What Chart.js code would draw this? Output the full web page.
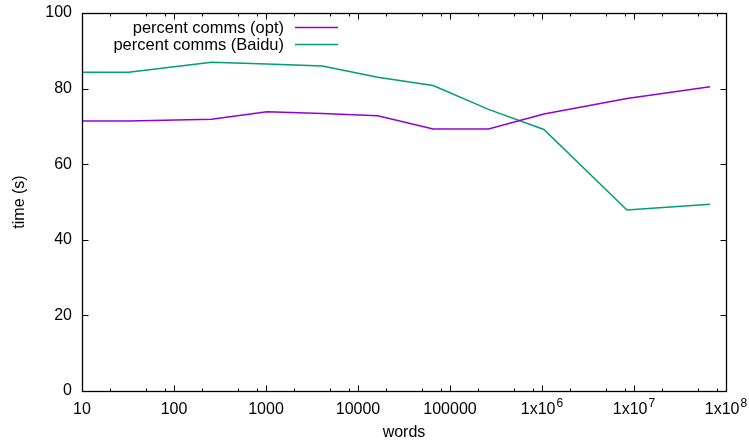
<!DOCTYPE html>
<html>
<head>
<meta charset="utf-8">
<script src="https://cdn.jsdelivr.net/npm/chart.js@4/dist/chart.umd.min.js"></script>
<style>
html,body{margin:0;padding:0;background:#fff;}
#wrap{width:749px;height:442px;position:relative;}
</style>
</head>
<body>
<div id="wrap"><canvas id="c" width="749" height="442"></canvas></div>
<script>
const words = [10, 32, 256, 1024, 4096, 16384, 65536, 262144, 1048576, 8388608, 67108864];
const optPercent = [71.4, 71.4, 71.9, 73.9, 73.4, 72.8, 69.3, 69.3, 73.3, 77.4, 80.5];
const baiduPercent = [84.3, 84.3, 87.0, 86.5, 86.0, 83.0, 80.8, 74.5, 69.2, 47.9, 49.4];
const xTickValues = [10, 100, 1000, 10000, 100000, 1e6, 1e7, 1e8];
const xTickBases = ['10', '100', '1000', '10000', '100000', '1x10', '1x10', '1x10'];
const xTickExponents = ['', '', '', '', '', '6', '7', '8'];
const xMinorMultipliers = [2, 5, 8];
const yTickValues = [0, 20, 40, 60, 80, 100];
const seriesLabels = ['percent comms (opt)', 'percent comms (Baidu)'];
const seriesColors = ['#9400d3', '#009e73'];

const FONT = '"Liberation Sans", Arial, Helvetica, sans-serif';
const FS = 16;

const framePlugin = {
  id: 'frame',
  afterDatasetsDraw(chart) {
    const ctx = chart.ctx;
    const a = chart.chartArea;
    const xs = chart.scales.x, ys = chart.scales.y;
    ctx.save();
    ctx.strokeStyle = '#000';
    ctx.lineWidth = 1;
    const L = Math.round(a.left) + 0.5, R = Math.round(a.right) + 0.5;
    const T = Math.round(a.top) + 0.5, B = Math.round(a.bottom) + 0.5;
    ctx.beginPath();
    xTickValues.forEach(v => {
      const px = Math.round(xs.getPixelForValue(v)) + 0.5;
      ctx.moveTo(px, B); ctx.lineTo(px, B - 6);
      ctx.moveTo(px, T); ctx.lineTo(px, T + 6);
      if (v < 1e8) {
        xMinorMultipliers.forEach(m => {
          const p = Math.round(xs.getPixelForValue(v * m)) + 0.5;
          ctx.moveTo(p, B); ctx.lineTo(p, B - 3);
          ctx.moveTo(p, T); ctx.lineTo(p, T + 3);
        });
      }
    });
    yTickValues.forEach(v => {
      const py = Math.round(ys.getPixelForValue(v)) + 0.5;
      ctx.moveTo(L, py); ctx.lineTo(L + 6, py);
      ctx.moveTo(R, py); ctx.lineTo(R - 6, py);
    });
    ctx.stroke();
    ctx.lineWidth = 1.3;
    ctx.strokeRect(L, T, R - L, B - T);

    // x tick labels (with superscript exponents)
    ctx.fillStyle = '#000';
    ctx.textBaseline = 'alphabetic';
    ctx.textAlign = 'left';
    xTickValues.forEach((v, i) => {
      const px = xs.getPixelForValue(v);
      ctx.font = FS + 'px ' + FONT;
      const wb = ctx.measureText(xTickBases[i]).width;
      let we = 0;
      if (xTickExponents[i]) {
        ctx.font = Math.round(FS * 0.72) + 'px ' + FONT;
        we = ctx.measureText(xTickExponents[i]).width + 1;
      }
      const x0 = px - (wb + we) / 2;
      ctx.font = FS + 'px ' + FONT;
      ctx.fillText(xTickBases[i], x0, B + 22);
      if (xTickExponents[i]) {
        ctx.font = Math.round(FS * 0.72) + 'px ' + FONT;
        ctx.fillText(xTickExponents[i], x0 + wb + 1, B + 15);
      }
    });

    // legend
    ctx.font = '16.5px ' + FONT;
    ctx.textAlign = 'right';
    ctx.textBaseline = 'middle';
    const rows = [27.5, 44.5];
    chart.data.datasets.forEach((ds, i) => {
      ctx.fillStyle = '#000';
      ctx.fillText(ds.label, 284, rows[i] + 1);
      ctx.strokeStyle = ds.borderColor;
      ctx.lineWidth = 1.5;
      ctx.beginPath();
      ctx.moveTo(295, rows[i]);
      ctx.lineTo(338, rows[i]);
      ctx.stroke();
    });
    ctx.restore();
  }
};

function noPad(s) {
  s.paddingTop = 0; s.paddingBottom = 0; s.paddingLeft = 0; s.paddingRight = 0;
}

new Chart(document.getElementById('c'), {
  type: 'line',
  data: {
    datasets: [
      { label: seriesLabels[0], data: words.map((w, i) => ({x: w, y: optPercent[i]})),
        borderColor: seriesColors[0], borderWidth: 1.5, pointRadius: 0, tension: 0, fill: false },
      { label: seriesLabels[1], data: words.map((w, i) => ({x: w, y: baiduPercent[i]})),
        borderColor: seriesColors[1], borderWidth: 1.5, pointRadius: 0, tension: 0, fill: false }
    ]
  },
  options: {
    responsive: false,
    animation: false,
    devicePixelRatio: 1,
    layout: { padding: { top: 13, right: 23, left: 0, bottom: 0 } },
    plugins: { legend: { display: false }, tooltip: { enabled: false } },
    scales: {
      x: {
        type: 'logarithmic', min: 10, max: 1e8,
        grid: { display: false, drawTicks: false }, border: { display: false },
        afterBuildTicks(s) { s.ticks = xTickValues.map(v => ({ value: v })); },
        afterFit(s) { s.height = 51; noPad(s); },
        ticks: { display: false },
        title: { display: true, text: 'words', color: '#000', font: { family: FONT, size: FS }, padding: { top: 0, bottom: 0 } }
      },
      y: {
        min: 0, max: 100,
        grid: { display: false, drawTicks: false }, border: { display: false },
        afterBuildTicks(s) { s.ticks = yTickValues.map(v => ({ value: v })); },
        afterFit(s) { s.width = 82; noPad(s); },
        ticks: { padding: 10, color: '#000', font: { family: FONT, size: FS } },
        title: { display: true, text: 'time (s)', color: '#000', font: { family: FONT, size: FS }, padding: { top: 10, bottom: 0 } }
      }
    }
  },
  plugins: [framePlugin]
});
</script>
</body>
</html>
